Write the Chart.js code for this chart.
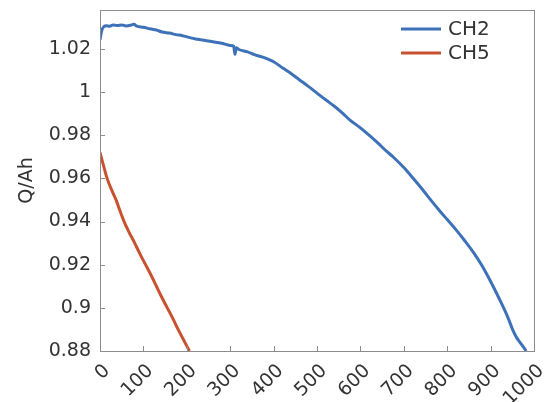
<!DOCTYPE html>
<html>
<head>
<meta charset="utf-8">
<script src="https://cdn.jsdelivr.net/npm/chart.js@4"></script>
<style>
    html, body { margin: 0; padding: 0; background: #fff; }
    #wrap { width: 555px; height: 402px; }
</style>
</head>
<body>
<div id="wrap"><canvas id="qChart"></canvas></div>
<script>
    // cycle number vs capacity
    const ch2Cycles = [0, 4, 9, 15, 22, 30, 40, 50, 60, 70, 78, 85, 100, 115, 130, 143, 160, 175, 190, 205, 220, 240, 260, 280, 300, 308, 311, 314, 320, 340, 357, 380, 400, 422, 440, 460, 480, 500, 520, 540, 560, 576, 600, 620, 640, 660, 675, 700, 720, 744, 760, 780, 800, 821, 840, 860, 880, 898, 920, 940, 951, 960, 966, 972, 977, 982];
    const ch2Q = [1.0242, 1.0285, 1.0303, 1.0307, 1.0305, 1.0310, 1.0308, 1.0311, 1.0306, 1.0309, 1.0314, 1.0305, 1.0300, 1.0293, 1.0287, 1.0278, 1.0273, 1.0266, 1.0261, 1.0253, 1.0246, 1.0240, 1.0233, 1.0226, 1.0216, 1.0212, 1.0175, 1.0205, 1.0197, 1.0186, 1.0172, 1.0158, 1.0140, 1.0110, 1.0086, 1.0056, 1.0026, 0.9995, 0.9964, 0.9934, 0.9900, 0.9870, 0.9834, 0.9800, 0.9764, 0.9726, 0.9700, 0.9650, 0.9604, 0.9546, 0.9505, 0.9456, 0.9409, 0.9360, 0.9312, 0.9258, 0.9196, 0.9130, 0.9042, 0.8955, 0.8898, 0.8862, 0.8845, 0.8828, 0.8814, 0.8800];

    const ch5Cycles = [0, 8, 16, 26, 37, 46, 55, 67, 80, 92, 105, 118, 130, 142, 155, 168, 180, 193, 206];
    const ch5Q = [0.9720, 0.9660, 0.9602, 0.9550, 0.9500, 0.9450, 0.9402, 0.9350, 0.9300, 0.9250, 0.9200, 0.9150, 0.9100, 0.9050, 0.9000, 0.8950, 0.8900, 0.8850, 0.8800];

    const xTicksMin = 0, xTicksMax = 1000, xStep = 100;
    const yTicksMin = 0.88, yTicksMax = 1.038, yStep = 0.02;

    const seriesNames = ['CH2', 'CH5'];
    const seriesColors = ['#3d72b9', '#c8522f'];
    const textColor = '#333333';
    const fontFamily = '"DejaVu Sans", sans-serif';

    function toPoints(xs, ys) {
        return xs.map((x, i) => ({ x: x, y: ys[i] }));
    }

    // box around the plot, inward ticks on left and bottom, legend top right
    const frameAndTicks = {
        id: 'frameAndTicks',
        afterDraw(chart) {
            const ctx = chart.ctx;
            const a = chart.chartArea;
            const xs = chart.scales.x;
            const ys = chart.scales.y;
            ctx.save();
            ctx.strokeStyle = '#8c8c8c';
            ctx.lineWidth = 1;
            ctx.strokeRect(Math.round(a.left) + 0.5, Math.round(a.top) + 0.5,
                Math.round(a.right - a.left), Math.round(a.bottom - a.top));
            ctx.beginPath();
            xs.ticks.forEach(t => {
                const px = Math.round(xs.getPixelForValue(t.value)) + 0.5;
                ctx.moveTo(px, a.bottom);
                ctx.lineTo(px, a.bottom - 5);
            });
            ys.ticks.forEach(t => {
                const py = Math.round(ys.getPixelForValue(t.value)) + 0.5;
                ctx.moveTo(a.left, py);
                ctx.lineTo(a.left + 5, py);
            });
            ctx.stroke();

            ctx.font = '20px ' + fontFamily;
            ctx.textBaseline = 'middle';
            ctx.textAlign = 'left';
            chart.data.datasets.forEach((ds, i) => {
                const y = a.top + 19 + i * 24;
                const x0 = a.right - 133;
                ctx.strokeStyle = ds.borderColor;
                ctx.lineWidth = 3;
                ctx.beginPath();
                ctx.moveTo(x0, y);
                ctx.lineTo(x0 + 40, y);
                ctx.stroke();
                ctx.fillStyle = textColor;
                ctx.fillText(ds.label, x0 + 47, y + 1);
            });
            ctx.restore();
        }
    };

    new Chart(document.getElementById('qChart'), {
        type: 'line',
        data: {
            datasets: [{
                label: seriesNames[0],
                data: toPoints(ch2Cycles, ch2Q),
                borderColor: seriesColors[0],
                borderWidth: 3,
                pointRadius: 0,
                cubicInterpolationMode: 'monotone',
            }, {
                label: seriesNames[1],
                data: toPoints(ch5Cycles, ch5Q),
                borderColor: seriesColors[1],
                borderWidth: 3,
                pointRadius: 0,
                cubicInterpolationMode: 'monotone',
            }]
        },
        options: {
            responsive: true,
            maintainAspectRatio: false,
            animation: false,
            layout: { padding: { top: 10, right: 21, bottom: 0, left: 16 } },
            plugins: {
                tooltip: { enabled: false },
                legend: { display: false }
            },
            scales: {
                x: {
                    type: 'linear',
                    min: xTicksMin,
                    max: xTicksMax,
                    grid: { display: false, drawTicks: false },
                    border: { display: false },
                    ticks: {
                        stepSize: xStep,
                        minRotation: 45,
                        maxRotation: 45,
                        padding: 9,
                        labelOffset: 7,
                        color: textColor,
                        font: { family: fontFamily, size: 19 },
                        callback: v => String(v)
                    },
                    afterFit(scale) {
                        scale.height = 51;
                        scale.paddingLeft = 0;
                        scale.paddingRight = 0;
                    }
                },
                y: {
                    min: yTicksMin,
                    max: yTicksMax,
                    grid: { display: false, drawTicks: false },
                    border: { display: false },
                    title: {
                        display: true,
                        text: 'Q/Ah',
                        color: textColor,
                        font: { family: fontFamily, size: 19 },
                        padding: { top: 0, bottom: 0 }
                    },
                    ticks: {
                        stepSize: yStep,
                        includeBounds: false,
                        padding: 9,
                        color: textColor,
                        font: { family: fontFamily, size: 19 },
                        callback: v => String(+Number(v).toFixed(2))
                    },
                    afterFit(scale) {
                        scale.width = 84;
                        scale.paddingTop = 0;
                        scale.paddingBottom = 0;
                    }
                }
            }
        },
        plugins: [frameAndTicks]
    });
</script>
</body>
</html>
